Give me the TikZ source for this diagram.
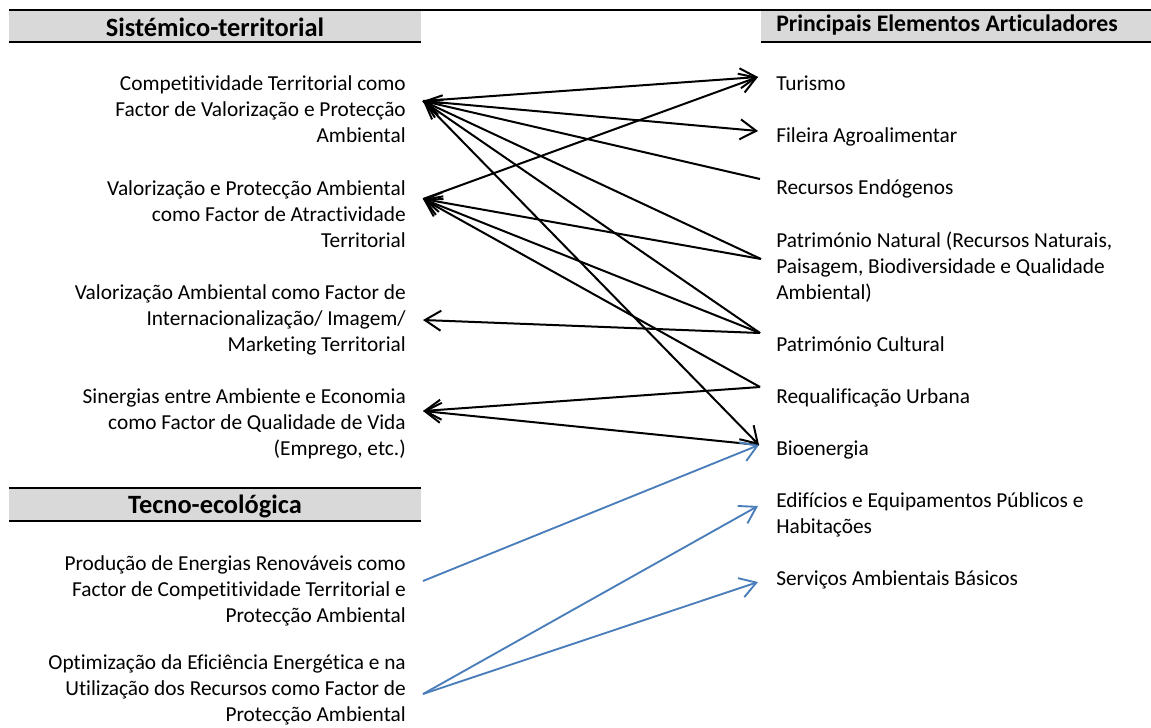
\documentclass[tikz,border=0pt]{standalone}
\usepackage{fontspec}
\setmainfont{Carlito}[Ligatures=NoCommon]
\usetikzlibrary{arrows.meta}
\definecolor{hdrgray}{HTML}{D9D9D9}
\definecolor{lnblue}{HTML}{4A7EBB}
\begin{document}
\begin{tikzpicture}[x=0.75pt,y=-0.75pt,
  txt/.style={font=\fontsize{16}{19.5}\selectfont, inner sep=0pt},
  lt/.style={txt, anchor=base east, align=right},
  rt/.style={txt, anchor=base west, align=left},
  hd/.style={font=\bfseries\fontsize{19.8}{24}\selectfont, inner sep=0pt, anchor=base},
  hdr/.style={font=\bfseries\fontsize{17.8}{22}\selectfont, inner sep=0pt, anchor=base west},
  rule/.style={line width=2.2pt, black},
  conn/.style={line width=1.5pt, black},
  bconn/.style={line width=1.4pt, lnblue},
  head/.style={-{Straight Barb[length=12pt,width=15pt]}}]
\useasboundingbox (0,0) rectangle (1151,727);
% header bars
\fill[hdrgray] (9,11) rectangle (421,41);
\fill[hdrgray] (761,11) rectangle (1151,41);
\fill[hdrgray] (9,489) rectangle (421,521);
\draw[rule] (9,10) -- (1151,10);
\draw[rule] (9,42) -- (421,42);
\draw[rule] (761,42) -- (1151,42);
\draw[rule] (9,488) -- (421,488);
\draw[rule] (9,521) -- (421,521);
\node[hd] (h1) at (215,37) {Sistémico-territorial};
\node[hdr] (h2) at (776,32) {Principais Elementos Articuladores};
\node[hd] (h3) at (215,513) {Tecno-ecológica};
% left texts (anchor = baseline of last line)
\node[lt] (t1) at (406,143) {Competitividade Territorial como\\Factor de Valorização e Protecção\\Ambiental};
\node[lt] (t2) at (406,247) {Valorização e Protecção Ambiental\\como Factor de Atractividade\\Territorial};
\node[lt] (t3) at (406,351) {Valorização Ambiental como Factor de\\Internacionalização/ Imagem/\\Marketing Territorial};
\node[lt] (t4) at (406,455) {Sinergias entre Ambiente e Economia\\como Factor de Qualidade de Vida\\(Emprego, etc.)};
\node[lt] (t5) at (406,622) {Produção de Energias Renováveis como\\Factor de Competitividade Territorial e\\Protecção Ambiental};
\node[lt] (t6) at (406,721) {Optimização da Eficiência Energética e na\\Utilização dos Recursos como Factor de\\Protecção Ambiental};
% right texts
\node[rt] (r1) at (776,91) {Turismo};
\node[rt] (r2) at (776,143) {Fileira Agroalimentar};
\node[rt] (r3) at (776,195) {Recursos Endógenos};
\node[rt] (r4) at (776,299) {Património Natural (Recursos Naturais,\\Paisagem, Biodiversidade e Qualidade\\Ambiental)};
\node[rt] (r5) at (776,351) {Património Cultural};
\node[rt] (r6) at (776,403) {Requalificação Urbana};
\node[rt] (r7) at (776,455) {Bioenergia};
\node[rt] (r8) at (776,533) {Edifícios e Equipamentos Públicos e\\Habitações};
\node[rt] (r9) at (776,585) {Serviços Ambientais Básicos};
% connector end points
\coordinate (l1) at (423,101);
\coordinate (l2) at (423,199);
\coordinate (l3) at (423,320);
\coordinate (l4) at (423,411);
\coordinate (l5) at (423,581);
\coordinate (l6) at (423,694);
\coordinate (tur) at (758,77);
\coordinate (fil) at (758,131);
\coordinate (rec) at (760,179);
\coordinate (pnat) at (761,259);
\coordinate (pcul) at (760,333);
\coordinate (req) at (760,387);
\coordinate (bio) at (759,445);
\coordinate (edi) at (758,506);
\coordinate (ser) at (758,582);
% black connectors
\draw[conn,head] (l1) -- (tur);
\draw[conn,head] (l1) -- (fil);
\draw[conn,head] (rec) -- (l1);
\draw[conn,head] (pnat) -- (l1);
\draw[conn,head] (pcul) -- (l1);
\draw[conn,head] (l1) -- (bio);
\draw[conn,head] (l2) -- (tur);
\draw[conn,head] (pnat) -- (l2);
\draw[conn,head] (pcul) -- (l2);
\draw[conn,head] (req) -- (l2);
\draw[conn,head] (pcul) -- (l3);
\draw[conn,head] (req) -- (l4);
\draw[conn,head] (bio) -- (l4);
% blue connectors
\draw[bconn,head] (l5) -- (bio);
\draw[bconn,head] (l6) -- (edi);
\draw[bconn,head] (l6) -- (ser);
\end{tikzpicture}
\end{document}
